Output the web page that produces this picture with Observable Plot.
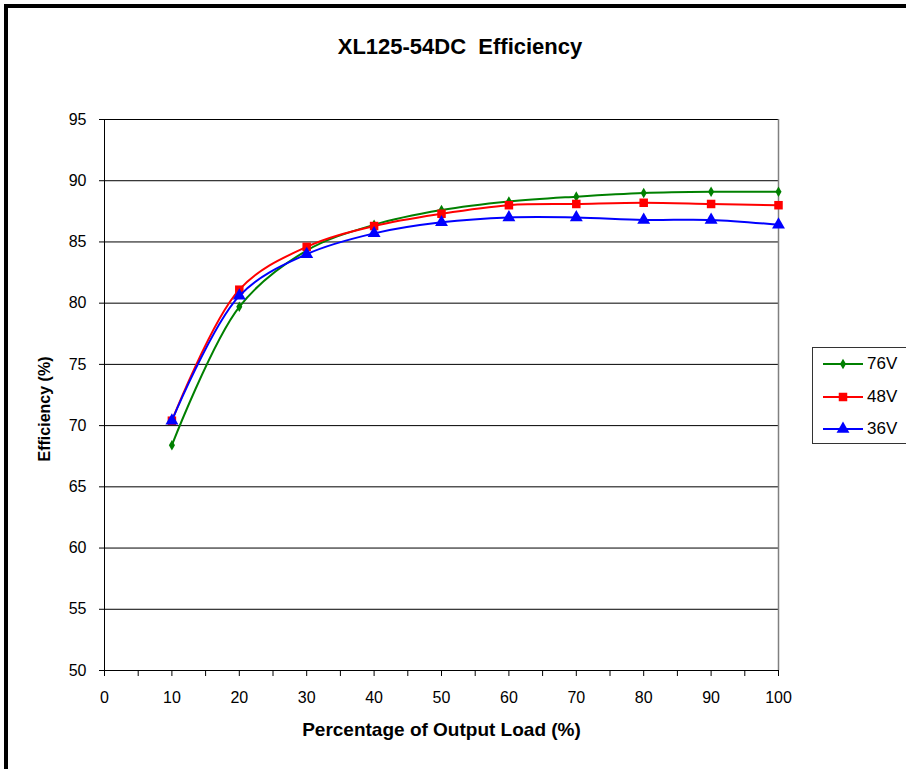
<!DOCTYPE html>
<html>
<head>
<meta charset="utf-8">
<script src="https://cdn.jsdelivr.net/npm/d3@7"></script>
<script src="https://cdn.jsdelivr.net/npm/@observablehq/plot@0.6"></script>
<style>
  html, body { margin: 0; padding: 0; background: #fff; }
  #wrap { position: relative; width: 906px; height: 769px; overflow: hidden; background: #fff; font-family: "Liberation Sans", Arial, sans-serif; }
  #wrap svg.plot { position: absolute; left: 0; top: 0; }
  .bl { position: absolute; background: #000; }
  #title { position: absolute; left: 0; width: 920px; top: 34px; text-align: center; font-weight: bold; font-size: 22px; white-space: pre; }
  #legend { position: absolute; left: 812px; top: 347px; width: 110px; height: 95px; border: 1px solid #333; background: #fff; }
  #legend .item { position: absolute; left: 10px; height: 20px; display: flex; align-items: center; font-size: 17px; }
  #legend .item span { margin-left: 3px; }
</style>
</head>
<body>
<div id="wrap">
  <div class="bl" style="left:4px;top:4px;width:4px;height:765px"></div>
  <div class="bl" style="left:4px;top:4px;width:902px;height:4px"></div>
  <div id="title"></div>
  <div id="legend"></div>
</div>
<script>
const titleText = "XL125-54DC  Efficiency";
const xLabel = "Percentage of Output Load (%)";
const yLabel = "Efficiency (%)";
const loads = [10, 20, 30, 40, 50, 60, 70, 80, 90, 100];
const seriesNames = ["76V", "48V", "36V"];
const eff76 = [68.4, 79.7, 84.3, 86.4, 87.6, 88.3, 88.7, 89.0, 89.1, 89.1];
const eff48 = [70.4, 81.1, 84.6, 86.3, 87.3, 88.0, 88.1, 88.2, 88.1, 88.0];
const eff36 = [70.4, 80.6, 84.0, 85.7, 86.6, 87.0, 87.0, 86.8, 86.8, 86.4];
const seriesColors = ["#008000", "#ff0000", "#0000ff"];
const seriesSymbols = ["diamond", "square", "triangle"];
const seriesSizes = [3.2, 4.8, 4.8];
const xTicks = d3.range(0, 101, 5);
const yTicks = d3.range(50, 96, 5);

const allValues = [eff76, eff48, eff36];
const data = seriesNames.flatMap((s, i) => loads.map((x, j) => ({series: s, load: x, eff: allValues[i][j]})));

document.getElementById("title").textContent = titleText;

const marks = [
  Plot.gridY(yTicks, {stroke: "#000", strokeOpacity: 1, strokeWidth: 1}),
  Plot.ruleX([100], {stroke: "#808080", strokeWidth: 1.5}),
  Plot.ruleX([0], {stroke: "#000", strokeWidth: 1}),
  Plot.ruleY([50], {stroke: "#000", strokeWidth: 1}),
  Plot.axisY(yTicks, {tickSize: 5, tickPadding: 13, label: null, fontSize: 16}),
  Plot.axisX(xTicks, {tickSize: 6, tickPadding: 15, label: null, fontSize: 16, tickFormat: d => d % 10 === 0 ? String(d) : ""}),
  Plot.text([xLabel], {frameAnchor: "bottom", dy: 65, fontWeight: "bold", fontSize: 19}),
  Plot.text([yLabel], {frameAnchor: "left", textAnchor: "middle", dx: -60, dy: 14, rotate: -90, fontWeight: "bold", fontSize: 16})
];
seriesNames.forEach((s, i) => {
  const d = data.filter(r => r.series === s);
  marks.push(Plot.line(d, {x: "load", y: "eff", stroke: seriesColors[i], strokeWidth: 2, curve: "catmull-rom"}));
  marks.push(Plot.dot(d, {x: "load", y: "eff", fill: seriesColors[i], stroke: "none", symbol: seriesSymbols[i], r: seriesSizes[i]}));
});

const chart = Plot.plot({
  width: 906,
  height: 769,
  marginLeft: 104,
  marginRight: 128,
  marginTop: 119,
  marginBottom: 99,
  x: {domain: [0, 100]},
  y: {domain: [50, 95]},
  style: {fontFamily: "'Liberation Sans', Arial, sans-serif", fontSize: "16px", background: "transparent", color: "#000"},
  marks
});
chart.classList.add("plot");
document.getElementById("wrap").insertBefore(chart, document.getElementById("title"));

// legend
const legend = d3.select("#legend");
seriesNames.forEach((s, i) => {
  const item = legend.append("div").attr("class", "item").style("top", (6 + i * 32.5) + "px");
  const svg = item.append("svg").attr("width", 41).attr("height", 20);
  svg.append("line").attr("x1", 0).attr("x2", 40).attr("y1", 10).attr("y2", 10)
    .attr("stroke", seriesColors[i]).attr("stroke-width", 2);
  const symType = {diamond: d3.symbolDiamond, square: d3.symbolSquare, triangle: d3.symbolTriangle}[seriesSymbols[i]];
  const area = Math.PI * seriesSizes[i] * seriesSizes[i];
  svg.append("path").attr("transform", "translate(20,10)")
    .attr("d", d3.symbol(symType, area)()).attr("fill", seriesColors[i]);
  item.append("span").text(s);
});
</script>
</body>
</html>
